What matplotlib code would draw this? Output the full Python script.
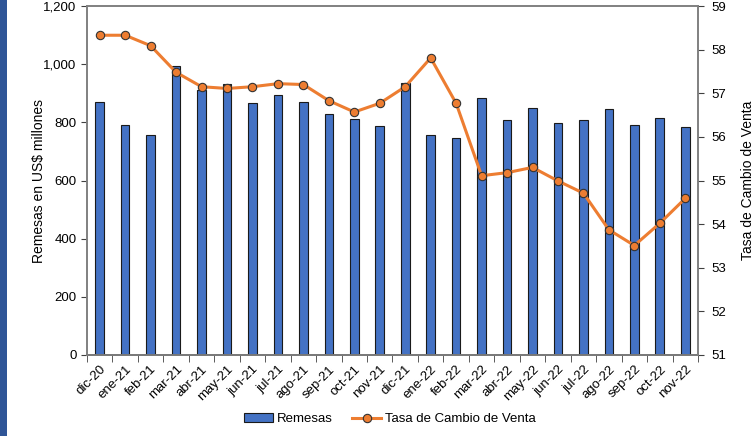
import matplotlib
matplotlib.use("Agg")
import matplotlib.pyplot as plt
import numpy as np
from matplotlib.patches import Rectangle
from matplotlib.ticker import FuncFormatter, FixedLocator

plt.rcParams['font.family'] = ['Liberation Sans', 'DejaVu Sans']

meses = ['dic-20', 'ene-21', 'feb-21', 'mar-21', 'abr-21', 'may-21', 'jun-21',
         'jul-21', 'ago-21', 'sep-21', 'oct-21', 'nov-21', 'dic-21', 'ene-22',
         'feb-22', 'mar-22', 'abr-22', 'may-22', 'jun-22', 'jul-22', 'ago-22',
         'sep-22', 'oct-22', 'nov-22']
remesas = [871, 790, 757, 994, 910, 931, 866, 895, 870, 828, 810, 786,
           936, 757, 747, 884, 807, 848, 799, 807, 846, 790, 814, 785]
tasa = [58.33, 58.33, 58.09, 57.48, 57.15, 57.11, 57.15, 57.22, 57.20, 56.83,
        56.57, 56.77, 57.15, 57.81, 56.77, 55.11, 55.18, 55.30, 54.99, 54.71,
        53.87, 53.51, 54.02, 54.59]

fig = plt.figure(figsize=(7.55, 4.36), dpi=100)
ax = fig.add_axes([0.1152, 0.1858, 0.8093, 0.8004])
ax2 = ax.twinx()

# franja azul a la izquierda
fig.patches.append(Rectangle((0, 0), 7 / 755, 1, transform=fig.transFigure,
                             facecolor='#2F5597', edgecolor='none'))

x = np.arange(len(meses))
bars = ax.bar(x, remesas, width=0.34, color='#4472C4', edgecolor='#1a1a1a',
              linewidth=0.8, label='Remesas', zorder=2)
line, = ax2.plot(x, tasa, color='#ED7D31', linewidth=2.2, marker='o',
                 markersize=6, markerfacecolor='#ED7D31',
                 markeredgecolor='#333333', markeredgewidth=0.8,
                 label='Tasa de Cambio de Venta', zorder=3)

ax.set_xlim(-0.5, len(meses) - 0.5)
ax.set_ylim(0, 1200)
ax.set_yticks(np.arange(0, 1201, 200))
ax.yaxis.set_major_formatter(FuncFormatter(lambda v, p: f'{v:,.0f}'))
ax2.set_ylim(51, 59)
ax2.set_yticks(np.arange(51, 60, 1))

ax.set_xticks(x)
ax.set_xticklabels(meses, rotation=45, ha='right', rotation_mode='anchor')
ax.xaxis.set_minor_locator(FixedLocator(np.arange(-0.5, len(meses), 1)))
ax.tick_params(axis='x', which='major', length=0, pad=6, labelsize=9.5)
ax.tick_params(axis='x', which='minor', length=5, color='#404040', direction='out')
ax.tick_params(axis='y', length=4, color='#404040', labelsize=9.5)
ax2.tick_params(axis='y', length=4, color='#404040', labelsize=9.5, pad=6)

for a in (ax, ax2):
    for s in a.spines.values():
        s.set_color('#808080')
        s.set_linewidth(1.2)
ax.spines['bottom'].set_color('#404040')

ax.set_ylabel('Remesas en US$ millones', fontsize=10, labelpad=-2)
ax2.set_ylabel('Tasa de Cambio de Venta', fontsize=10, labelpad=10)

fig.legend([bars, line], ['Remesas', 'Tasa de Cambio de Venta'],
           loc='center', bbox_to_anchor=(390 / 755, 17 / 436), ncol=2,
           frameon=False, fontsize=9.5, handlelength=2.2, handletextpad=0.3,
           columnspacing=1.5)

fig.savefig('out.png', dpi=100)
